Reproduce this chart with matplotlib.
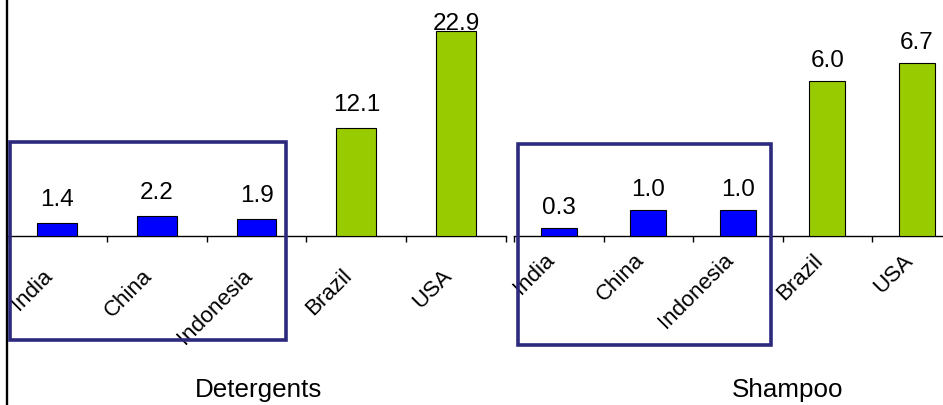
import matplotlib
matplotlib.use('Agg')
import matplotlib.pyplot as plt
from matplotlib.patches import Rectangle
from matplotlib.lines import Line2D
import numpy as np

plt.rcParams['font.family'] = ['Liberation Sans', 'DejaVu Sans']

# per capita consumption by country
countries = ['India', 'China', 'Indonesia', 'Brazil', 'USA']
detergents = [1.4, 2.2, 1.9, 12.1, 22.9]
shampoo = [0.3, 1.0, 1.0, 6.0, 6.7]
panel_titles = ['Detergents', 'Shampoo']

BLUE = '#0000FF'
GREEN = '#99CC00'
BOX = '#2D2A7E'
bar_colors = [BLUE, BLUE, BLUE, GREEN, GREEN]

W, H = 943, 405
base = 236  # baseline, pixels from the top

fig = plt.figure(figsize=(W / 100, H / 100), dpi=100)

ax1 = fig.add_axes([7 / W, (H - base) / H, 499 / W, base / H])
ax1.set_xlim(-0.45, 4.5)
ax1.set_ylim(0, base / 8.95)

ax2 = fig.add_axes([514 / W, (H - base) / H, 447.5 / W, base / H])
ax2.set_xlim(-0.5, 4.5)
ax2.set_ylim(0, base / 25.87)


def draw_panel(ax, values, label_pad, label_room, tick_pad):
    x = np.arange(len(countries))
    ax.bar(x, values, width=0.4, color=bar_colors, edgecolor='black',
           linewidth=0.8, zorder=3)
    top = ax.get_ylim()[1]
    for xi, v in zip(x, values):
        y = min(v + label_pad, top - label_room)
        ax.text(xi, y, '{:.1f}'.format(v), ha='center', va='baseline',
                fontsize=17.5, color='black')

    for side in ['left', 'right', 'top']:
        ax.spines[side].set_visible(False)
    ax.spines['bottom'].set_linewidth(1.0)
    ax.patch.set_alpha(0)

    ax.set_yticks([])
    ax.set_xticks(np.arange(-0.5, len(countries) + 0.5, 1.0))
    ax.set_xticklabels([])
    ax.tick_params(axis='x', which='major', direction='out', length=4,
                   width=1.0, color='black')
    ax.set_xticks(x, countries, minor=True)
    ax.tick_params(axis='x', which='minor', length=0, pad=tick_pad,
                   labelsize=16)
    plt.setp(ax.get_xticklabels(minor=True), rotation=45, ha='right',
             va='top')


draw_panel(ax1, detergents, 17 / 8.95, 30 / 8.95, 21)
draw_panel(ax2, shampoo, 14 / 25.87, 0.0, 10)

# titles under each group
fig.text(259 / W, (H - 397) / H, panel_titles[0], ha='center',
         va='baseline', fontsize=18.7)
fig.text(788 / W, (H - 397) / H, panel_titles[1], ha='center',
         va='baseline', fontsize=18.7)

# outline around the emerging markets in each panel
for x0, y0, x1, y1 in [(9.7, 142.3, 285.5, 340), (518, 144.5, 771, 344.7)]:
    fig.patches.append(Rectangle((x0 / W, (H - y1) / H), (x1 - x0) / W,
                                 (y1 - y0) / H, transform=fig.transFigure,
                                 fill=False, edgecolor=BOX, linewidth=2.6,
                                 zorder=5))

# left-hand rule
fig.add_artist(Line2D([7 / W, 7 / W], [0, 1], transform=fig.transFigure,
                      color='black', linewidth=1.7))

fig.savefig('out.png', dpi=100)
